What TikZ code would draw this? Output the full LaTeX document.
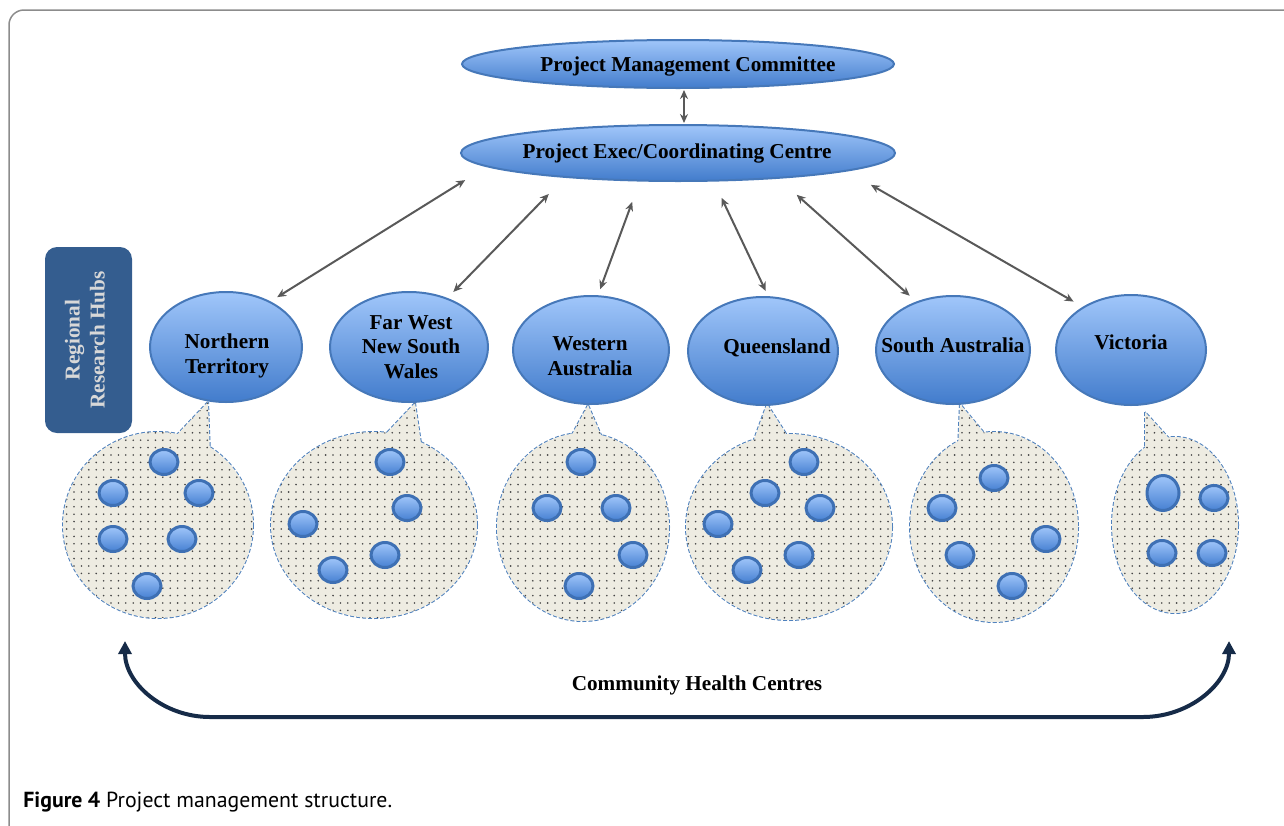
\documentclass[tikz,border=0pt]{standalone}
\usepackage{fontspec}
\setmainfont{Liberation Serif}
\newfontfamily\capfont{PT Sans}
\usetikzlibrary{shapes.geometric, arrows.meta, patterns.meta, calc}

\definecolor{framec}{RGB}{140,140,140}
\definecolor{hubtop}{RGB}{160,198,250}
\definecolor{hubbot}{RGB}{66,124,204}
\definecolor{hubline}{RGB}{70,120,185}
\definecolor{hctop}{RGB}{160,198,250}
\definecolor{hcbot}{RGB}{70,128,210}
\definecolor{hcline}{RGB}{62,112,180}
\definecolor{connc}{RGB}{89,89,89}
\definecolor{navy}{RGB}{22,43,72}
\definecolor{rrhbg}{RGB}{52,93,143}
\definecolor{rrhtext}{RGB}{216,216,216}
\definecolor{bubbg}{RGB}{238,236,226}
\definecolor{bubline}{RGB}{79,129,189}
\definecolor{dotc}{RGB}{70,70,70}

\newcommand\mybubble[6]{%
  \draw[bubedge] #1 ellipse[x radius=#2, y radius=#3];
  \draw[bubedge] #4 -- #5 -- #6 -- cycle;
  \path[bubfill] #1 ellipse[x radius=#2, y radius=#3];
  \path[bubfill] #4 -- #5 -- #6 -- cycle;
}

\begin{document}
\begin{tikzpicture}[x=0.5pt, y=-0.5pt,
  hub/.style={ellipse, draw=hubline, line width=1pt, top color=hubtop, bottom color=hubbot, inner sep=0pt, outer sep=0pt},
  lbl/.style={font=\bfseries\fontsize{10.6}{12.2}\selectfont, align=center, inner sep=0pt, anchor=base},
  conn/.style={draw=connc, line width=1pt, {Stealth[length=4.5pt,width=4pt]}-{Stealth[length=4.5pt,width=4pt]}},
  hc/.style={ellipse, draw=hcline, line width=1.5pt, top color=hctop, bottom color=hcbot, inner sep=0pt, minimum width=14pt, minimum height=12.5pt},
  bubedge/.style={draw=bubline, line width=1pt, dash pattern=on 2pt off 1pt},
  bubfill/.style={preaction={fill=bubbg}, pattern={Dots[distance=3.7pt, radius=0.45pt]}, pattern color=dotc},
]
\path[use as bounding box] (0,0) rectangle (1284,825);
\begin{scope}
  \clip (0,0) rectangle (1284,825);
  \draw[framec, line width=0.75pt, rounded corners=7.5pt] (9,10) rectangle (1320,860);
\end{scope}

% top ellipses
\node[hub, minimum width=216pt, minimum height=24pt] (pmc) at (678,64) {};
\node[lbl] (pmct) at (688,71) {Project Management Committee};
\node[hub, minimum width=217pt, minimum height=28pt] (pec) at (678,153) {};
\node[lbl] (pect) at (677,158) {Project Exec/Coordinating Centre};

% regional box
\node[fill=rrhbg, rounded corners=6pt, minimum width=43.5pt, minimum height=93pt, inner sep=0pt] (rrh) at (88.5,340) {};
\node[font=\bfseries\fontsize{10.6}{12.5}\selectfont, text=rrhtext, rotate=90, align=center, inner sep=0pt] (rrht) at (85,340) {Regional\\Research Hubs};

% bubbles
\mybubble{(158,525)}{95}{93}{(208,402)}{(172,440)}{(210,455)}
\mybubble{(374,525)}{103}{93}{(415,403)}{(380,440)}{(422,450)}
\mybubble{(583,527)}{86}{94}{(588,405)}{(568,442)}{(604,442)}
\mybubble{(789,527)}{103}{93}{(767,404)}{(752,445)}{(790,440)}
\mybubble{(994,527)}{84}{95}{(960,404)}{(958,450)}{(990,440)}
\mybubble{(1175,525)}{63}{88}{(1145,412)}{(1145,460)}{(1175,445)}

% hubs
\node[hub, minimum width=76pt, minimum height=55pt] (nt) at (226,347) {};
\node[hub, minimum width=79pt, minimum height=55pt] (fw) at (409,347) {};
\node[hub, minimum width=78pt, minimum height=54pt] (wa) at (591,350) {};
\node[hub, minimum width=75pt, minimum height=54pt] (ql) at (763,351) {};
\node[hub, minimum width=77pt, minimum height=54pt] (sa) at (953,350) {};
\node[hub, minimum width=75pt, minimum height=55pt] (vi) at (1131,350) {};

\node[lbl] (ntt) at (227,373) {Northern\\Territory};
\node[lbl] (fwt) at (411,378) {Far West\\New South\\Wales};
\node[lbl] (wat) at (590,375) {Western\\Australia};
\node[lbl] (qlt) at (777,353) {Queensland};
\node[lbl] (sat) at (953,352) {South Australia};
\node[lbl] (vit) at (1131,349) {Victoria};

% connectors
\draw[conn, shorten <=1pt, shorten >=1pt] ([xshift=3pt]pmc.south) -- ([xshift=3pt]pec.north);
\draw[conn, shorten <=13pt, shorten >=4.5pt] (pec.184.7) -- (nt.46.3);
\draw[conn, shorten <=11.9pt, shorten >=4.7pt] (pec.192.1) -- (fw.52.2);
\draw[conn, shorten <=11.4pt, shorten >=3.75pt] (pec.216.7) -- (wa.83.2);
\draw[conn, shorten <=9.5pt, shorten >=3.4pt] (pec.322.5) -- (ql.84.9);
\draw[conn, shorten <=12.7pt, shorten >=4.9pt] (pec.346.6) -- (sa.127.9);
\draw[conn, shorten <=14.2pt, shorten >=5.8pt] (pec.354) -- (vi.138.7);

% health centres
\foreach \p [count=\i] in {(164,462),(113,493),(199,493),(113,539),(182,539),(147,586)}
  \node[hc] (ntc\i) at \p {};
\foreach \p [count=\i] in {(390,462),(407,508),(303,524),(385,555),(333,570)}
  \node[hc] (fwc\i) at \p {};
\foreach \p [count=\i] in {(581,462),(547,508),(616,508),(633,555),(579,586)}
  \node[hc] (wac\i) at \p {};
\foreach \p [count=\i] in {(804,462),(765,493),(820,508),(718,524),(799,555),(747,570)}
  \node[hc] (qlc\i) at \p {};
\foreach \p [count=\i] in {(994,478),(942,508),(1046,539),(960,555),(1012,586)}
  \node[hc] (sac\i) at \p {};
\node[hc, minimum width=16pt, minimum height=17.5pt] (vic1) at (1163,493) {};
\foreach \p [count=\i from 2] in {(1214,498),(1162,553),(1212,553)}
  \node[hc] (vic\i) at \p {};

% community arrow
\coordinate (chl) at (125,641);
\coordinate (chr) at (1229,641);
\draw[navy, line width=2pt, {Triangle[length=6.5pt,width=6.5pt]}-{Triangle[length=6.5pt,width=6.5pt]}]
  (chl) .. controls (125,683) and (163,717) .. (210,717) -- (1143,717) .. controls (1190,717) and (1229,683) .. (chr);
\node[lbl] (cht) at (697,690) {Community Health Centres};

% caption
\node[anchor=base west, inner sep=0pt, font=\capfont\fontsize{10.9}{12}\selectfont] (cap) at (23,807) {\textbf{Figure 4} Project management structure.};
\end{tikzpicture}
\end{document}
